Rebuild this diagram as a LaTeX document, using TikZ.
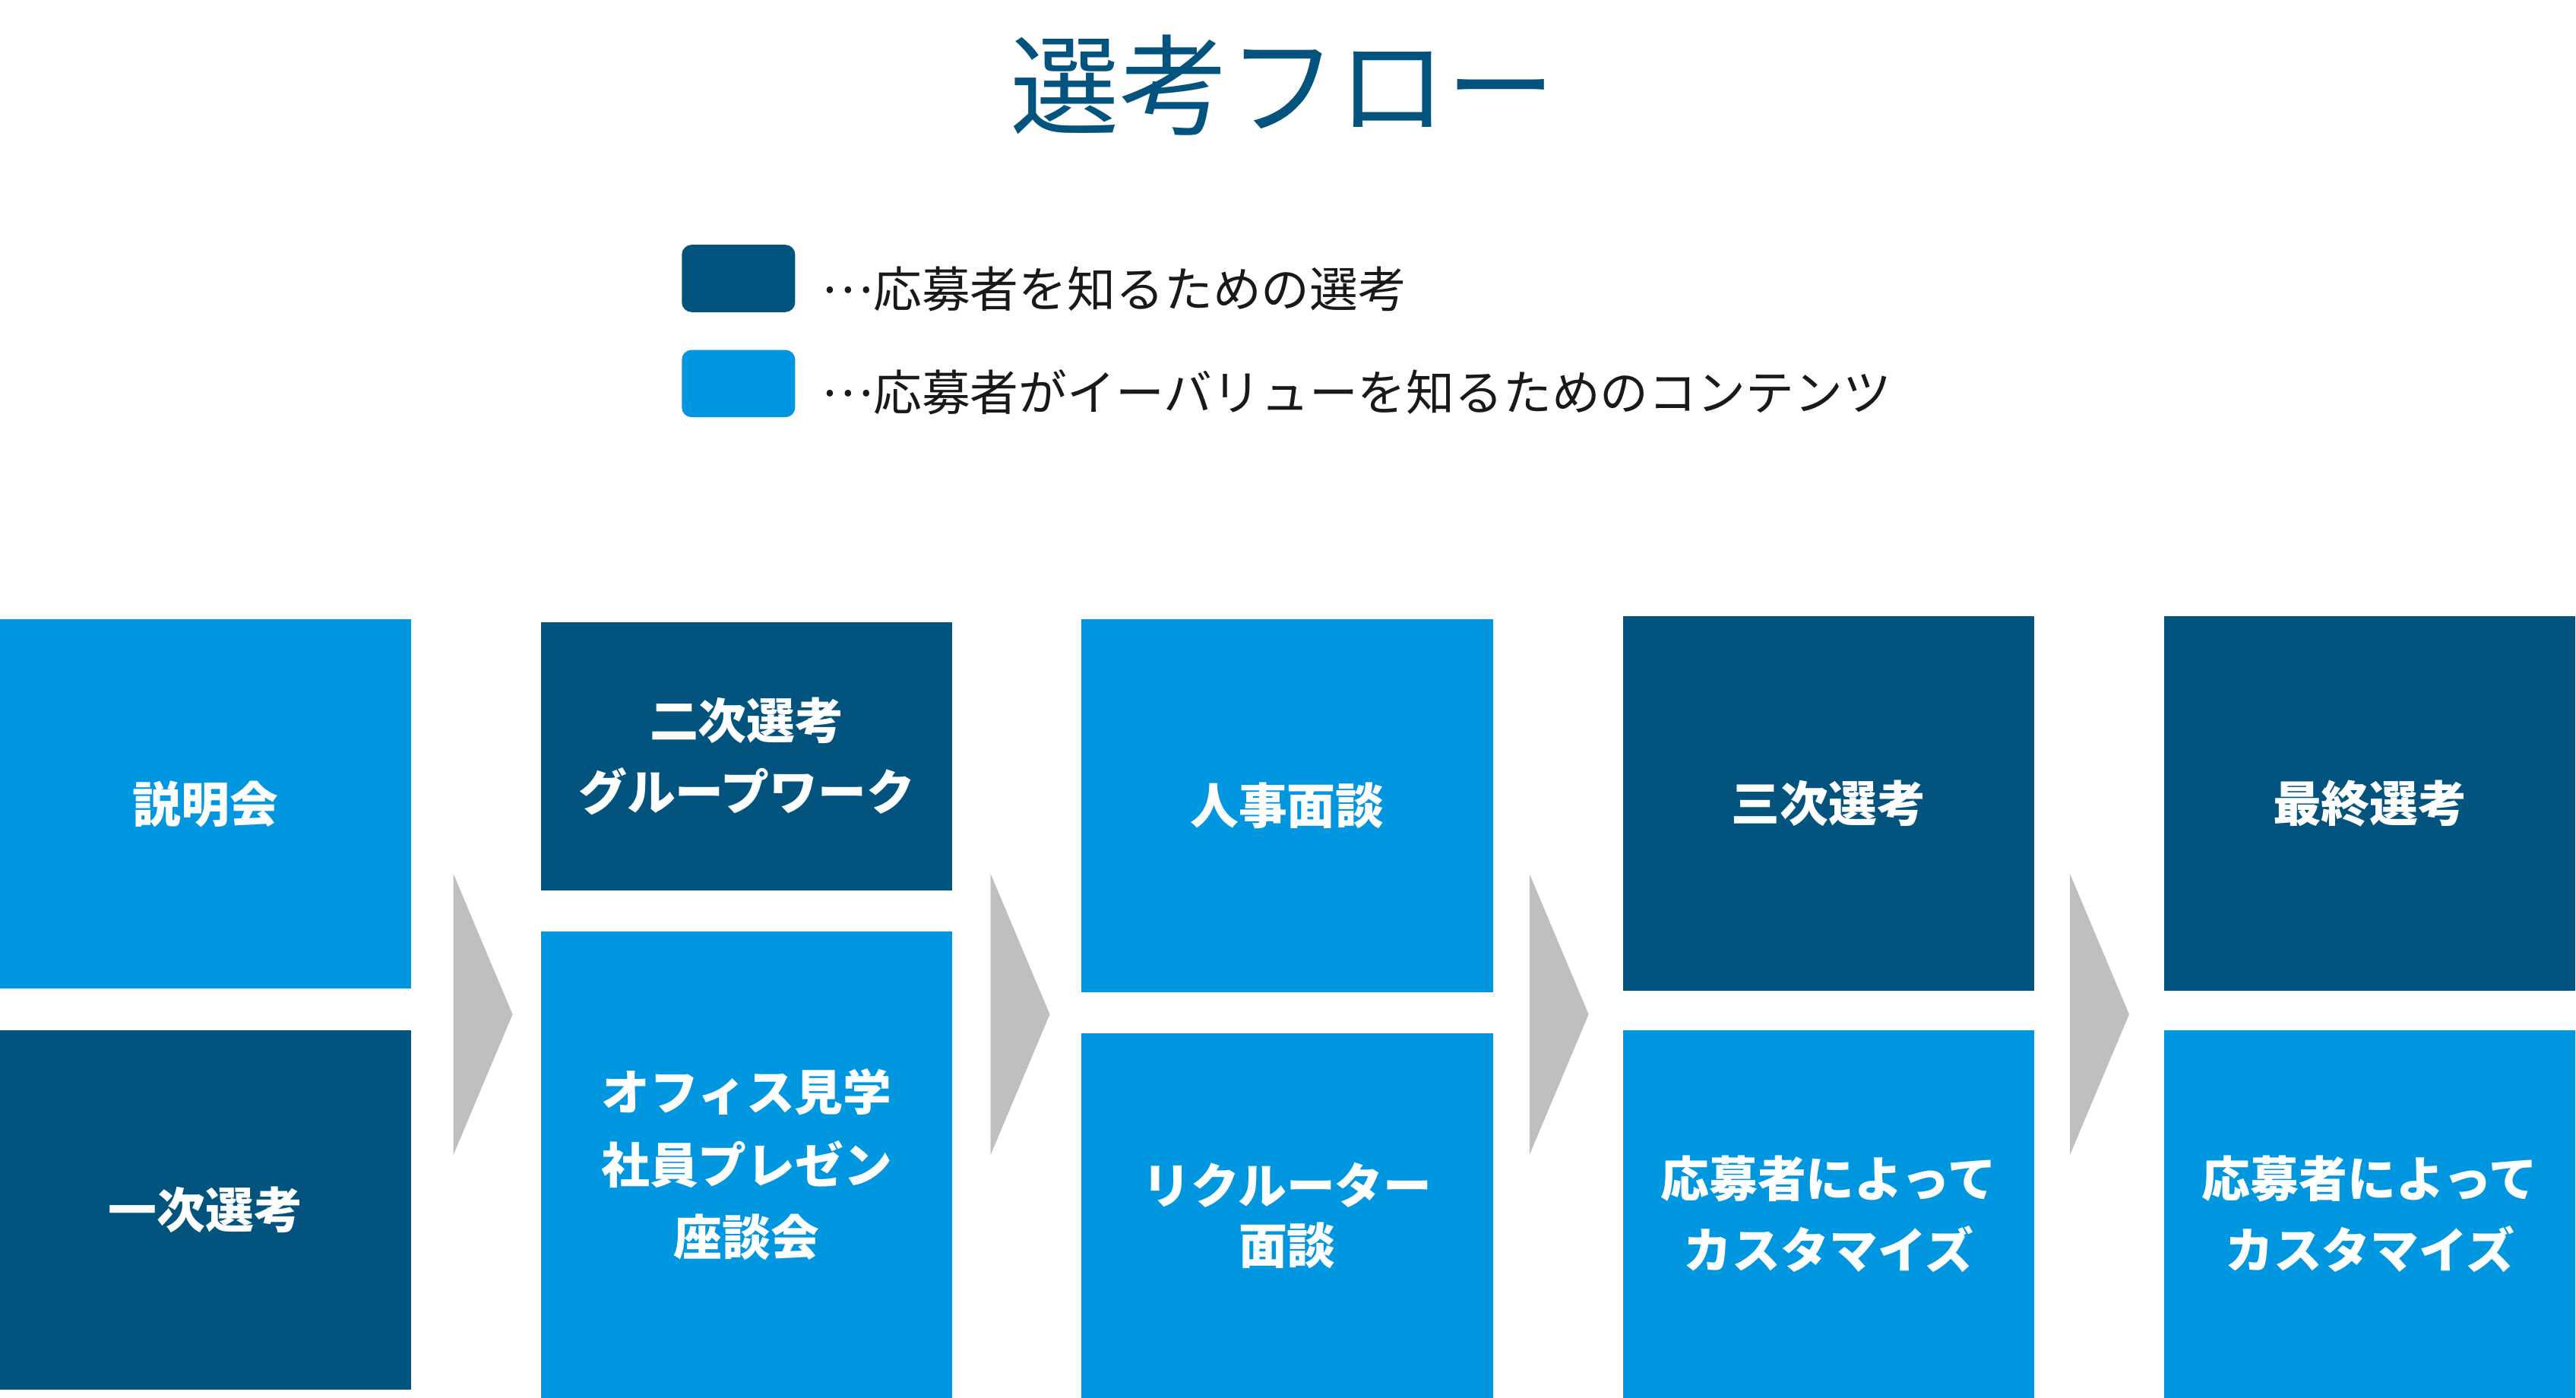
\documentclass[tikz,border=0pt]{standalone}
\usepackage{fontspec}
\newfontfamily\jp{Noto Sans CJK JP}
\definecolor{dk}{RGB}{2,84,126}
\definecolor{lt}{RGB}{0,150,224}
\definecolor{gr}{RGB}{191,191,191}
\newcommand{\midell}{\raisebox{0.3em}{…}}
\begin{document}
\begin{tikzpicture}[x=0.02cm,y=-0.02cm,
  box/.style={rectangle, inner sep=0pt, outer sep=0pt, text=white, align=center,
    minimum width=5.01cm, font=\jp\bfseries\fontsize{16.8}{24.6}\selectfont},
  dkbox/.style={box, fill=dk},
  ltbox/.style={box, fill=lt},
  chev/.style={fill=gr},
  legbox/.style={rectangle, rounded corners=0.12cm, inner sep=0pt, minimum width=1.38cm, minimum height=0.82cm},
  legtext/.style={anchor=west, inner sep=0pt, font=\jp\fontsize{16.8}{20}\selectfont, text=black!90}]
\useasboundingbox (0,0) rectangle (1568,851.07);
\clip (0,0) rectangle (1568,851.07);
% title
\node[text=dk, font=\jp\fontsize{37.8}{40}\selectfont, inner sep=0pt] (title) at (781,52) {選考フロー};
% legend
\node[legbox, fill=dk] (lg1) at (449.5,169.5) {};
\node[legbox, fill=lt] (lg2) at (449.5,233.5) {};
\node[legtext] (lt1) at (500,176) {\midell 応募者を知るための選考};
\node[legtext] (lt2) at (500,239) {\midell 応募者がイーバリューを知るためのコンテンツ};
% column 1
\node[ltbox, minimum height=4.5cm] (c1a) at (125,489.5) {説明会};
\node[dkbox, minimum height=4.38cm] (c1b) at (125,736.5) {一次選考};
% column 2
\node[dkbox, minimum height=3.26cm] (c2a) at (454.5,460.5) {二次選考\\グループワーク};
\node[ltbox, minimum height=5.68cm, font=\jp\bfseries\fontsize{16.8}{25.2}\selectfont] (c2b) at (454.5,709) {オフィス見学\\社員プレゼン\\座談会};
% column 3
\node[ltbox, minimum height=4.54cm] (c3a) at (783.5,490.5) {人事面談};
\node[ltbox, minimum height=4.44cm, font=\jp\bfseries\fontsize{16.8}{21}\selectfont] (c3b) at (783.5,740) {リクルーター\\面談};
% column 4
\node[dkbox, minimum height=4.56cm] (c4a) at (1113,489) {三次選考};
\node[ltbox, minimum height=4.48cm] (c4b) at (1113,739) {応募者によって\\カスタマイズ};
% column 5
\node[dkbox, minimum height=4.56cm] (c5a) at (1442.5,489) {最終選考};
\node[ltbox, minimum height=4.48cm] (c5b) at (1442.5,739) {応募者によって\\カスタマイズ};
% chevrons
\foreach \x/\n in {276/a1, 603/a2, 931/a3, 1260/a4}{
  \fill[chev] (\x,532) -- (\x+36,617.5) -- (\x,703) -- cycle;
}
\end{tikzpicture}
\end{document}
